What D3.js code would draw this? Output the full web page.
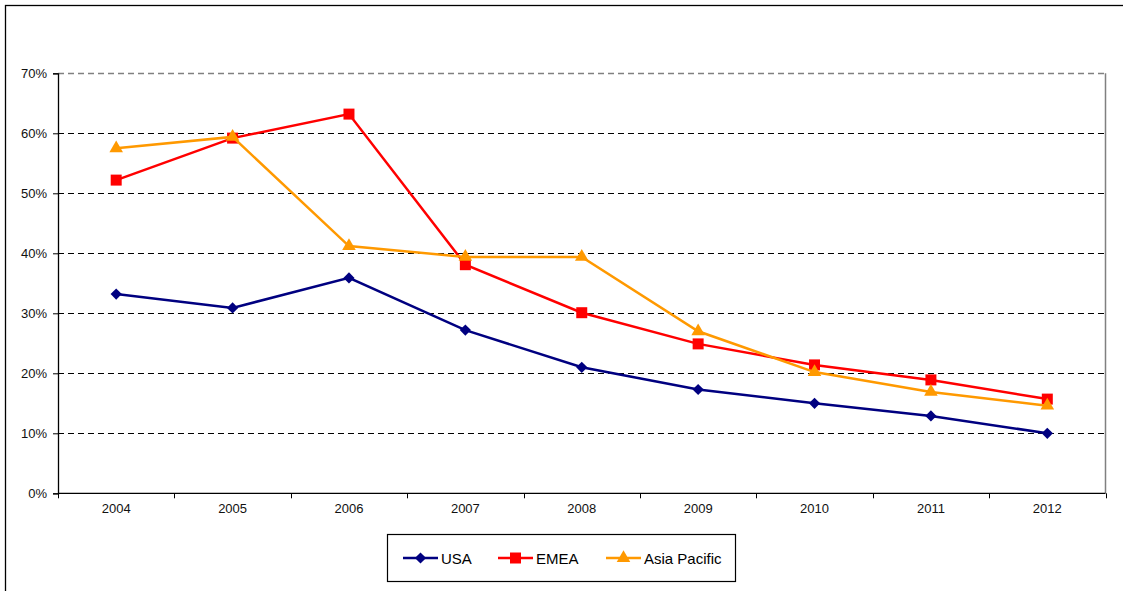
<!DOCTYPE html>
<html>
<head>
<meta charset="utf-8">
<script src="https://cdn.jsdelivr.net/npm/d3@7"></script>
<style>
    body { margin: 0; background: white; }
    text { font-family: "Liberation Sans", Arial, sans-serif; }
</style>
</head>
<body>
<div id="canvas"></div>
<script>
"use strict"

/* Data */
let years = ["2004", "2005", "2006", "2007", "2008", "2009", "2010", "2011", "2012"];
let usaValues = [0.332, 0.309, 0.359, 0.272, 0.210, 0.173, 0.150, 0.129, 0.100];
let emeaValues = [0.522, 0.592, 0.632, 0.381, 0.301, 0.249, 0.214, 0.189, 0.157];
let asiaValues = [0.575, 0.594, 0.412, 0.394, 0.394, 0.270, 0.202, 0.169, 0.146];
let yTicks = [0, 0.1, 0.2, 0.3, 0.4, 0.5, 0.6, 0.7];
let seriesNames = ["USA", "EMEA", "Asia Pacific"];

let series = [
    { name: seriesNames[0], values: usaValues, color: "#000080", marker: d3.symbolDiamond2, size: 80 },
    { name: seriesNames[1], values: emeaValues, color: "#FF0000", marker: d3.symbolSquare, size: 121 },
    { name: seriesNames[2], values: asiaValues, color: "#FF9900", marker: d3.symbolTriangle, size: 80 }
];

/* set up the drawing canvas */
let drawing = d3.select("#canvas")
    .append("svg")
    .attr("width", 1123)
    .attr("height", 591);

// outer chart frame (runs off the right and bottom of the picture)
drawing.append("rect")
    .attr("x", 5.5)
    .attr("y", 5.5)
    .attr("width", 1130)
    .attr("height", 600)
    .attr("fill", "white")
    .attr("stroke", "black")
    .attr("stroke-width", 1.3);

let plotLeft = 58, plotRight = 1105.5, plotTop = 73.3, plotBottom = 493.3;

let x = d3.scaleBand()
    .domain(years)
    .range([plotLeft, plotRight]);

let y = d3.scaleLinear()
    .domain([0, 0.7])
    .range([plotBottom, plotTop]);

// gridlines (dashed), top one is grey like the plot border
drawing.append("g")
    .selectAll("line")
    .data(yTicks.filter(d => d > 0))
    .join("line")
    .attr("x1", plotLeft)
    .attr("x2", plotRight)
    .attr("y1", d => Math.round(y(d)) + 0.5)
    .attr("y2", d => Math.round(y(d)) + 0.5)
    .attr("stroke", d => d === 0.7 ? "#808080" : "black")
    .attr("stroke-width", d => d === 0.7 ? 1.5 : 1)
    .attr("stroke-dasharray", "6,4");

// right border of plot area
drawing.append("line")
    .attr("x1", plotRight)
    .attr("x2", plotRight)
    .attr("y1", plotTop)
    .attr("y2", plotBottom)
    .attr("stroke", "#808080")
    .attr("stroke-width", 1.5);

// y axis
let yAxis = drawing.append("g")
    .attr("transform", "translate(" + plotLeft + ",0)")
    .call(d3.axisLeft(y)
        .tickValues(yTicks)
        .tickFormat(d3.format(".0%"))
        .tickSize(5)
        .tickPadding(6));

// x axis, ticks sit between the categories
let xAxis = drawing.append("g")
    .attr("transform", "translate(0," + plotBottom + ")")
    .call(d3.axisBottom(x).tickSize(0).tickPadding(10));

xAxis.selectAll(".tickmark")
    .data(d3.range(years.length + 1))
    .join("line")
    .attr("class", "tickmark")
    .attr("x1", i => Math.round(plotLeft + i * x.step()) + 0.5)
    .attr("x2", i => Math.round(plotLeft + i * x.step()) + 0.5)
    .attr("y1", 0)
    .attr("y2", 5)
    .attr("stroke", "black");

for (let axis of [xAxis, yAxis]) {
    axis.attr("font-size", 13).attr("font-family", "Liberation Sans, Arial, sans-serif");
    axis.select(".domain").attr("stroke", "black").attr("stroke-width", 1.3);
    axis.selectAll(".tick line").attr("stroke", "black");
    axis.selectAll("text").attr("fill", "#111");
}
xAxis.select(".domain").attr("d", "M" + plotLeft + ",0H" + plotRight);

// lines and markers
let line = d3.line()
    .x((d, i) => x(years[i]) + x.bandwidth() / 2)
    .y(d => y(d));

for (let s of series) {
    drawing.append("path")
        .attr("d", line(s.values))
        .attr("fill", "none")
        .attr("stroke", s.color)
        .attr("stroke-width", 2.5);

    drawing.append("g")
        .selectAll("path")
        .data(s.values)
        .join("path")
        .attr("transform", (d, i) => "translate(" + (x(years[i]) + x.bandwidth() / 2) + "," + y(d) + ")")
        .attr("d", d3.symbol().type(s.marker).size(s.size))
        .attr("fill", s.color);
}

// legend box
let legend = drawing.append("g");

legend.append("rect")
    .attr("x", 387.5)
    .attr("y", 534.5)
    .attr("width", 348)
    .attr("height", 47)
    .attr("fill", "white")
    .attr("stroke", "black")
    .attr("stroke-width", 1.2);

let legendX = [403, 498, 606];

series.forEach((s, i) => {
    let lx = legendX[i];
    legend.append("line")
        .attr("x1", lx)
        .attr("x2", lx + 35)
        .attr("y1", 558)
        .attr("y2", 558)
        .attr("stroke", s.color)
        .attr("stroke-width", 2.5);
    legend.append("path")
        .attr("transform", "translate(" + (lx + 17.5) + ",558)")
        .attr("d", d3.symbol().type(s.marker).size(s.size))
        .attr("fill", s.color);
    legend.append("text")
        .attr("x", lx + 38)
        .attr("y", 563.5)
        .attr("font-size", 15)
        .attr("fill", "black")
        .text(s.name);
});
</script>
</body>
</html>
